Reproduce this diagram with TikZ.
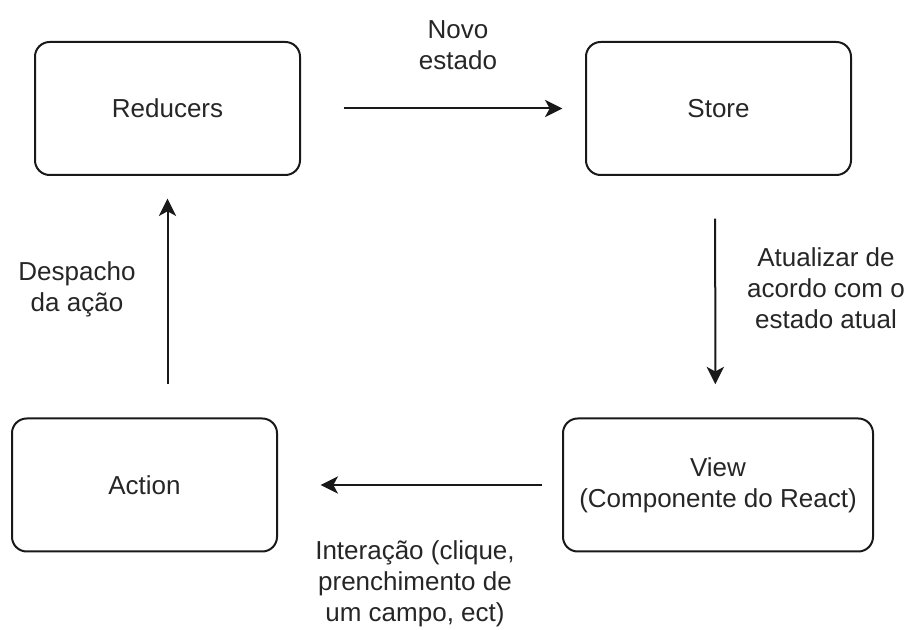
\documentclass[tikz,border=0pt]{standalone}
\usepackage{fontspec}
\setmainfont{Liberation Sans}
\usetikzlibrary{arrows.meta}
\begin{document}
\begin{tikzpicture}[x=0.75pt,y=-0.75pt,
  every node/.style={font=\fontsize{19.5}{23.25}\selectfont, text=black!85},
  block/.style={draw=black!90, line width=1.5pt, rounded corners=11pt,
    minimum width=198.75pt, minimum height=99.75pt, align=center, inner sep=0pt},
  flow/.style={draw=black!90, line width=1.5pt,
    -{Stealth[length=13pt,width=13pt,inset=3.5pt]}},
  note/.style={align=center, inner sep=0pt}]
  \useasboundingbox (0,0) rectangle (911,630);

  % the four stages of the cycle
  \node[block] (reducers) at (167.5,108.5) {Reducers};
  \node[block] (store) at (718.5,108.5) {Store};
  \node[block, minimum width=232.5pt] (view) at (718,485) {View\\(Componente do React)};
  \node[block] (action) at (144.5,485) {Action};

  % connectors between the stages
  \draw[flow, shorten <=32pt, shorten >=17pt] (reducers.east) -- (store.west);
  \draw[flow, shorten <=32pt, shorten >=25pt] ([xshift=-2.5pt]store.south) -- ([xshift=-2pt]view.north);
  \draw[flow, shorten <=15pt, shorten >=32pt] (view.west) -- (action.east);
  \draw[flow, shorten <=25pt, shorten >=17pt] (reducers.south |- action.north) -- (reducers.south);

  % edge labels
  \node[note] (lnovo) at (458,45) {Novo\\estado};
  \node[note] (latual) at (826,288) {Atualizar de\\acordo com o\\estado atual};
  \node[note] (ldesp) at (77,289) {Despacho\\da ação};
  \node[note] (linter) at (415,584) {Interação (clique,\\prenchimento de\\um campo, ect)};
\end{tikzpicture}
\end{document}
